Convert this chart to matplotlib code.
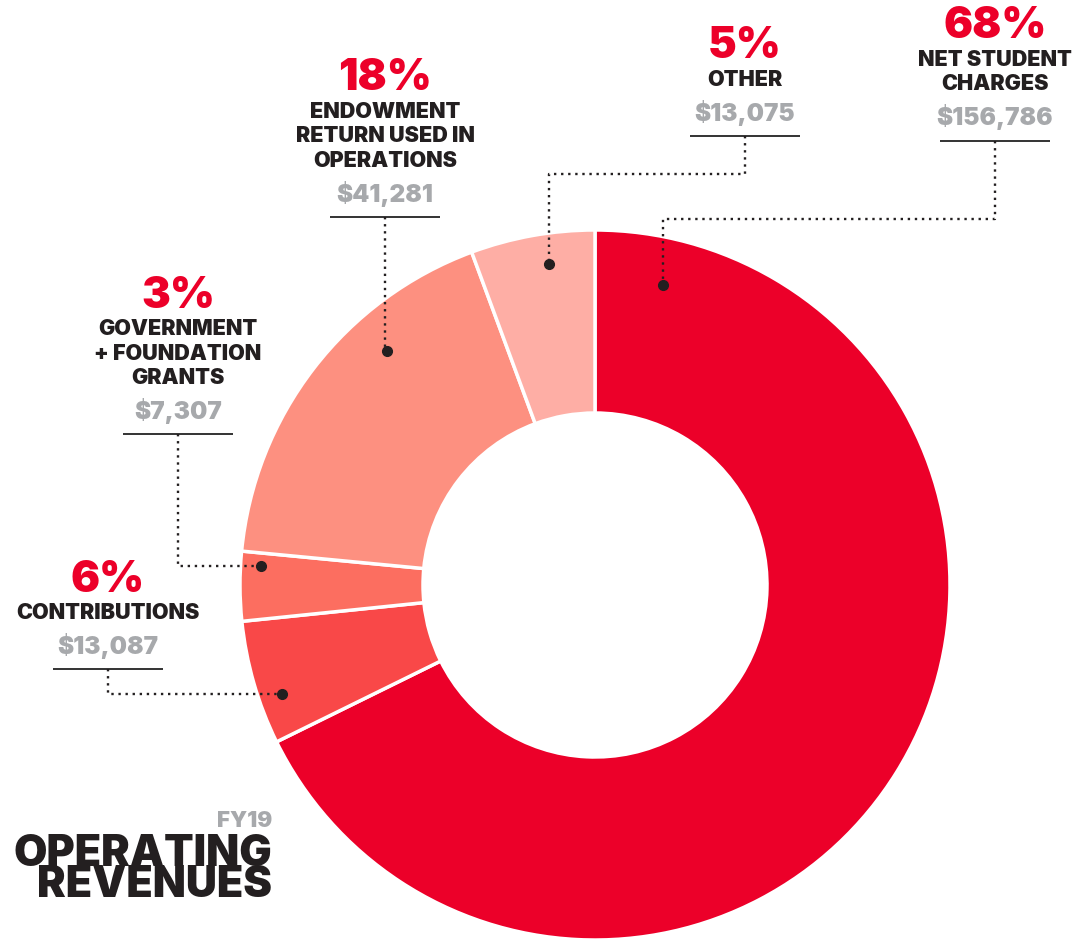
import matplotlib.pyplot as plt

W, H = 1080, 940

names = ["NET STUDENT\nCHARGES", "CONTRIBUTIONS", "GOVERNMENT\n+ FOUNDATION\nGRANTS",
         "ENDOWMENT\nRETURN USED IN\nOPERATIONS", "OTHER"]
amounts = [156786, 13087, 7307, 41281, 13075]
pct_labels = ["68%", "6%", "3%", "18%", "5%"]
colors = ["#EC0029", "#F94848", "#FC6E60", "#FD9080", "#FEAEA5"]

# label block: centre x and y of the percent line (pixels, from the top)
label_pos = [(995, 27), (108, 580), (178, 296), (385, 79), (745, 47)]
# leader dot inside each wedge, and the y where the leader bends
dot_pos = [(663, 285), (282, 694), (261, 566), (387, 351), (549, 264)]
elbow_y = [219, 694, 566, 351, 174]

RED = "#EC0029"
GREY = "#A7A9AC"
INK = "#231F20"
FONT = ["Inter", "DejaVu Sans"]

fig = plt.figure(figsize=(W / 100, H / 100), dpi=100)
ax = fig.add_axes([0, 0, 1, 1])

ax.pie(amounts, colors=colors, center=(595, 585), radius=355,
       startangle=-90, counterclock=True,
       wedgeprops=dict(width=183, edgecolor="white", linewidth=2.5))
ax.set_xlim(0, W)
ax.set_ylim(H, 0)
ax.set_aspect("equal")
ax.axis("off")

for name, amt, pct, (cx, y0), (dx, dy), ey in zip(names, amounts, pct_labels,
                                                   label_pos, dot_pos, elbow_y):
    ax.text(cx, y0, pct, color=RED, fontsize=31, fontweight=900, family=FONT,
            ha="center", va="center")
    y = y0 + 33
    lines = name.split("\n")
    for i, line in enumerate(lines):
        ax.text(cx, y, line, color=INK, fontsize=15.5, fontweight=900, family=FONT,
                ha="center", va="center")
        if i < len(lines) - 1:
            y += 24.5
    y += 33
    ax.text(cx, y, f"${amt:,}", color=GREY, fontsize=17.5, fontweight=900, family=FONT,
            ha="center", va="center")
    ul = y + 23
    ax.plot([cx - 55, cx + 55], [ul, ul], color="#333333", lw=1.4, solid_capstyle="butt")
    # dotted leader from the underline to the wedge
    ax.plot([cx, cx, dx, dx], [ul, ey, ey, dy], color=INK, lw=1.7, ls=(0, (1, 2)))
    ax.plot(dx, dy, "o", color=INK, ms=7)

ax.text(272, 821, "FY19", color=GREY, fontsize=16, fontweight=900, family=FONT,
        ha="right", va="center")
ax.text(272, 870, "OPERATING\nREVENUES", color=INK, fontsize=31, fontweight=900,
        family=FONT, ha="right", va="center", multialignment="right", linespacing=0.68)

fig.savefig("out.png", dpi=100)
